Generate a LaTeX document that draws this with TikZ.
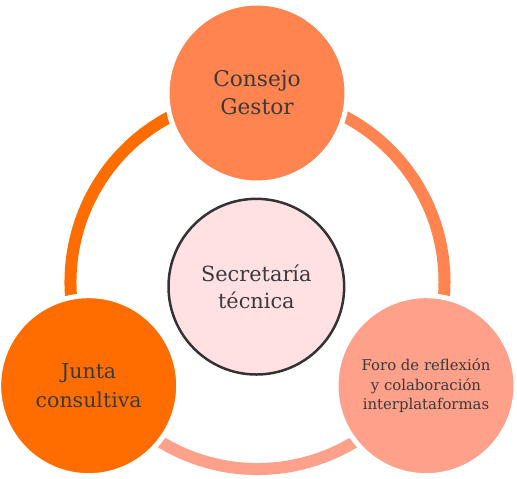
\documentclass[tikz,border=0pt]{standalone}
\usepackage{fontspec}
\setmainfont{DejaVu Serif}
\usepackage{tikz}
\usetikzlibrary{backgrounds}
\definecolor{gestorOrange}{RGB}{255,132,80}
\definecolor{juntaOrange}{RGB}{255,109,0}
\definecolor{foroSalmon}{RGB}{255,160,138}
\definecolor{secFill}{RGB}{255,225,228}
\definecolor{secBorder}{RGB}{51,51,51}
\definecolor{textGray}{RGB}{58,58,58}

\begin{document}
\begin{tikzpicture}[
    % Outer member circle: \node[member=COLOR]
    member/.style={
        circle, draw=white, fill=#1,
        line width=0.15cm,
        minimum size=5.40cm, inner sep=0pt,
        align=center, text=textGray,
        font=\fontsize{17.5}{24}\selectfont
    },
    member/.default=gestorOrange,
    % Central circle
    core/.style={
        circle, draw=secBorder, fill=secFill,
        line width=0.075cm,
        minimum size=5.27cm, inner sep=0pt,
        align=center, text=textGray,
        font=\fontsize{17.8}{23.5}\selectfont
    },
    % Thick ring segment round the hub
    ring/.style={line width=0.36cm}
]
\useasboundingbox (0,0) rectangle (15.51,-14.34);
% ── CIRCLES ───────────────────────────────────────────────────
\node[member=gestorOrange, font=\fontsize{18.5}{24}\selectfont]
                           (consejo) at (7.71, -2.79) {Consejo\\Gestor};
\node[member=juntaOrange]  (junta)   at (2.66,-11.57) {Junta\\consultiva};
\node[member=foroSalmon, font=\fontsize{12.7}{16.8}\selectfont]
                           (foro)    at (12.78,-11.57)
    {Foro de reflexión\\y colaboración\\interplataformas};
\node[core]                (sec)     at (7.69, -8.60) {Secretaría\\técnica};
\coordinate (hub) at (7.725,-8.46);
% ── RING: each segment in the colour of the circle it leaves ──
\begin{scope}[on background layer]
\draw[ring, draw=juntaOrange]  (hub) ++(210:5.61)
    arc[start angle=210, end angle=90,  radius=5.61];
\draw[ring, draw=gestorOrange] (hub) ++(90:5.61)
    arc[start angle=90,  end angle=-30, radius=5.61];
\draw[ring, draw=foroSalmon]   (hub) ++(-30:5.61)
    arc[start angle=-30, end angle=-150, radius=5.61];
\end{scope}
\end{tikzpicture}
\end{document}
